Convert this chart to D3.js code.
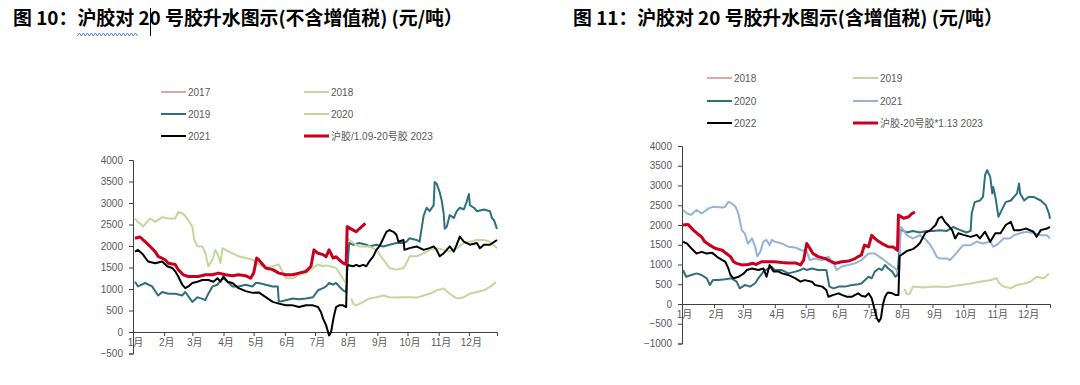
<!DOCTYPE html>
<html>
<head>
<meta charset="utf-8">
<script src="https://cdn.jsdelivr.net/npm/d3@7"></script>
<style>
	body { margin: 0; background: #fff; }
	svg { display: block; }
	.title { font-family: "Noto Sans CJK SC", sans-serif; font-weight: bold; font-size: 18px; fill: #000; }
	.tick text, .legend text { font-family: "Liberation Sans", "Noto Sans CJK SC", sans-serif; font-size: 10px; fill: #595959; }
</style>
</head>
<body>
<svg id="canvas" width="1080" height="385"></svg>
<script>
'use strict';

// month starts (day of year) and their labels
const monthDays = [0, 31, 59, 90, 120, 151, 181, 212, 243, 273, 304, 334];
const monthLabels = ['1月', '2月', '3月', '4月', '5月', '6月', '7月', '8月', '9月', '10月', '11月', '12月'];

/* ---- Fig.10 : without VAT, [day, value] ---- */
const left2017 = [];
const left2018 = [[217,780],[219,660],[222,620],[229,700],[235,780],[242,810],[249,850],[255,810],[262,800],[269,810],[275,810],[282,800],[289,850],[295,890],[302,970],[309,1010],[315,890],[322,780],[329,810],[335,890],[342,930],[349,970],[355,1050],[361,1160]];
const left2019 = [[2,1170],[5,1060],[12,1140],[19,1060],[25,850],[29,930],[35,890],[42,890],[49,850],[52,930],[59,700],[64,810],[69,770],[72,740],[74,850],[79,1060],[84,1100],[89,1250],[92,1210],[99,1060],[105,1060],[112,1100],[119,1060],[122,1140],[125,1140],[132,1100],[139,1060],[144,1060],[145,700],[152,740],[159,780],[165,760],[172,780],[179,810],[184,970],[189,1020],[192,1060],[195,1140],[199,1100],[202,1140],[205,1060],[209,970],[212,930],[213,1410],[215,2070],[219,2030],[225,2070],[232,2030],[235,1990],[242,2030],[249,1990],[255,2030],[262,2070],[269,2070],[272,2100],[275,2180],[282,2140],[285,2100],[289,2700],[292,2890],[295,2810],[299,2950],[300,3490],[302,3450],[305,3250],[307,3060],[309,2750],[310,2400],[312,2450],[315,2720],[319,2650],[322,2810],[325,2890],[329,2850],[332,3040],[334,3210],[335,2950],[339,2890],[342,2810],[349,2850],[355,2810],[357,2650],[359,2600],[362,2400]];
const left2020 = [[2,2640],[5,2550],[9,2490],[10,2450],[17,2640],[22,2560],[29,2670],[35,2640],[42,2640],[45,2790],[50,2750],[54,2640],[59,2450],[61,2140],[64,1990],[69,1990],[72,1830],[75,1530],[79,1680],[82,1910],[85,1760],[87,1600],[89,1950],[92,1910],[99,1830],[105,1760],[112,1720],[119,1680],[125,1570],[132,1490],[139,1530],[145,1570],[152,1250],[159,1250],[165,1330],[172,1370],[179,1490],[184,1570],[189,1530],[192,1550],[202,1490],[212,1120],[213,2180],[219,2070],[225,1990],[235,1990],[242,1910],[249,1680],[255,1490],[262,1450],[269,1490],[272,1600],[275,1760],[282,1760],[289,1830],[295,1910],[302,1950],[309,1910],[315,1870],[322,1950],[329,2070],[335,2100],[342,2140],[349,2140],[355,2100],[362,1950]];
const left2021 = [[2,1870],[5,1910],[10,1800],[15,1640],[22,1600],[29,1640],[34,1530],[39,1490],[42,1410],[45,1290],[49,1100],[52,1020],[55,1060],[59,1140],[64,1170],[69,1210],[75,1210],[80,1170],[84,1250],[87,1170],[90,1290],[94,1170],[99,1140],[105,1020],[112,950],[119,910],[125,920],[132,810],[139,700],[145,660],[152,620],[159,620],[165,580],[172,620],[179,620],[184,580],[187,460],[189,310],[192,160],[194,0],[195,-80],[197,0],[199,270],[200,390],[202,580],[205,620],[209,620],[212,580],[213,1560],[219,1530],[222,1560],[225,1530],[229,1560],[232,1530],[235,1640],[239,1760],[242,1910],[245,1990],[249,2180],[252,2330],[255,2370],[259,2330],[262,2260],[264,2100],[269,2140],[270,1910],[275,1950],[282,1990],[289,1910],[295,1950],[299,1990],[302,1910],[305,1760],[309,1830],[312,1910],[315,1990],[319,1870],[322,2030],[325,2220],[329,2100],[335,2030],[342,2070],[345,1950],[349,2030],[355,2030],[362,2140]];
const left2023 = [[2,2180],[7,2210],[12,2100],[17,1990],[22,1870],[25,1760],[32,1680],[35,1600],[42,1570],[45,1450],[50,1330],[55,1290],[65,1290],[72,1330],[79,1330],[85,1370],[92,1330],[99,1310],[105,1330],[112,1310],[117,1250],[120,1370],[123,1720],[125,1680],[129,1570],[132,1490],[139,1450],[145,1370],[152,1330],[159,1330],[165,1370],[172,1410],[177,1530],[180,1910],[184,1830],[189,1800],[192,1750],[195,1910],[199,1720],[202,1750],[205,1680],[209,1600],[212,1570],[213,2450],[219,2370],[222,2330],[225,2400],[229,2480],[231,2530]];

/* ---- Fig.11 : with VAT, [day, value] ---- */
const right2018 = [];
const right2019 = [[216,380],[218,250],[221,260],[224,440],[234,420],[244,440],[257,430],[270,480],[280,520],[289,565],[299,600],[305,650],[308,520],[312,440],[319,400],[325,480],[332,520],[338,565],[344,690],[351,650],[356,770]];
const right2020 = [[1,860],[4,690],[9,735],[14,775],[19,735],[24,650],[27,480],[30,605],[35,605],[42,625],[48,650],[53,565],[56,395],[61,480],[66,440],[71,525],[74,650],[79,820],[84,900],[87,940],[90,860],[97,860],[103,775],[110,820],[115,860],[118,900],[121,860],[126,900],[132,860],[140,860],[143,440],[147,395],[152,440],[158,440],[165,480],[171,500],[174,520],[181,690],[184,650],[187,820],[191,900],[194,860],[197,985],[200,900],[204,820],[207,690],[209,735],[211,1410],[212,1890],[218,1810],[224,1850],[231,1810],[237,1850],[244,1850],[250,1870],[257,1850],[263,1950],[270,1870],[276,1810],[280,1850],[281,2290],[284,2580],[289,2620],[292,2710],[294,3260],[296,3390],[299,3220],[301,2800],[302,2960],[304,2710],[307,2210],[311,2420],[314,2580],[319,2620],[325,2800],[327,3050],[328,2800],[332,2620],[336,2710],[341,2710],[348,2620],[353,2500],[356,2290],[357,2160]];
const right2021 = [[1,2380],[5,2290],[9,2260],[14,2380],[19,2290],[26,2420],[30,2460],[39,2440],[42,2460],[45,2590],[48,2550],[52,2460],[55,2260],[58,1870],[61,1780],[64,1530],[68,1660],[71,1450],[73,1200],[76,1330],[79,1580],[82,1620],[85,1490],[87,1620],[90,1580],[97,1530],[103,1450],[110,1430],[116,1360],[121,1330],[124,1110],[129,1150],[136,1110],[142,1200],[147,1030],[150,860],[155,950],[162,990],[168,1030],[174,1110],[181,1280],[187,1280],[194,1150],[200,1030],[207,900],[209,820],[211,850],[212,1950],[215,1870],[218,1740],[224,1660],[231,1740],[237,1620],[241,1490],[244,1360],[247,1200],[250,1150],[257,1150],[260,1110],[263,1200],[266,1280],[270,1410],[273,1490],[280,1490],[286,1580],[292,1530],[299,1580],[302,1450],[305,1490],[312,1660],[318,1660],[322,1740],[328,1790],[334,1830],[341,1790],[348,1740],[354,1740],[357,1660]];
const right2022 = [[1,1575],[5,1530],[9,1410],[14,1280],[19,1320],[24,1280],[29,1300],[34,1195],[39,1110],[42,1070],[45,900],[47,735],[50,650],[55,690],[60,775],[63,860],[68,900],[74,860],[79,900],[82,690],[85,985],[89,820],[94,820],[97,775],[103,735],[110,650],[115,565],[119,605],[126,565],[129,480],[136,440],[140,355],[142,185],[147,230],[152,270],[155,230],[160,185],[165,185],[168,230],[171,270],[174,210],[178,185],[181,270],[184,145],[187,-150],[189,-360],[191,-445],[193,-360],[195,0],[197,185],[199,270],[200,290],[204,270],[207,230],[210,230],[211,1210],[218,1340],[224,1390],[228,1470],[231,1550],[236,1800],[241,1870],[246,2000],[249,2170],[252,2210],[255,2080],[258,2000],[262,1870],[265,1660],[268,1790],[273,1750],[280,1700],[286,1750],[289,1660],[294,1830],[299,1575],[304,1790],[309,1790],[314,2000],[319,2080],[322,1870],[328,1870],[334,1910],[341,1830],[344,1700],[348,1870],[354,1910],[357,1950]];
const right2023 = [[1,2000],[6,2010],[11,1870],[15,1780],[19,1700],[22,1580],[27,1490],[32,1410],[39,1360],[43,1280],[47,1200],[50,1070],[53,1030],[58,990],[64,1000],[69,1030],[72,1000],[77,1070],[84,1070],[90,1070],[97,1050],[103,1040],[110,1040],[115,990],[118,1110],[121,1530],[124,1410],[127,1280],[132,1200],[139,1150],[145,1070],[149,1030],[155,1070],[162,1090],[168,1150],[171,1200],[174,1240],[177,1490],[181,1450],[184,1740],[187,1660],[191,1580],[194,1530],[197,1490],[200,1450],[205,1440],[209,1360],[210,2250],[215,2170],[220,2210],[223,2290],[226,2330]];

const leftYTicks = [-500, 0, 500, 1000, 1500, 2000, 2500, 3000, 3500, 4000];
const rightYTicks = [-1000, -500, 0, 500, 1000, 1500, 2000, 2500, 3000, 3500, 4000];

const leftSeries = [
	{ name: '2017', data: left2017, color: '#e6a3a3', width: 2 },
	{ name: '2018', data: left2018, color: '#c4d79b', width: 2 },
	{ name: '2019', data: left2019, color: '#2f6f7e', width: 2 },
	{ name: '2020', data: left2020, color: '#c4d79b', width: 2 },
	{ name: '2021', data: left2021, color: '#000000', width: 2 },
	{ name: '沪胶/1.09-20号胶 2023', data: left2023, color: '#c8001e', width: 3 }
];
const rightSeries = [
	{ name: '2018', data: right2018, color: '#e6a3a3', width: 2 },
	{ name: '2019', data: right2019, color: '#c4d79b', width: 2 },
	{ name: '2020', data: right2020, color: '#2f6f7e', width: 2 },
	{ name: '2021', data: right2021, color: '#95b3d7', width: 2 },
	{ name: '2022', data: right2022, color: '#000000', width: 2 },
	{ name: '沪胶-20号胶*1.13 2023', data: right2023, color: '#c8001e', width: 3 }
];

const svg = d3.select('#canvas');

/**
 * draw one chart panel
 * @param {object} cfg
 * @returns {object} the title node
 */
function drawChart(cfg){
	const x = d3.scaleLinear().domain([0, cfg.endDay]).range(cfg.xRange);
	const y = d3.scaleLinear().domain(d3.extent(cfg.yTicks)).range(cfg.yRange);

	const title = svg.append('text')
		.attr('class', 'title')
		.attr('x', cfg.titleX)
		.attr('y', 25)
		.text(cfg.title);
	// fit the title to the width it has in the source
	const len = title.node().getComputedTextLength();
	title.style('font-size', (18 * cfg.titleWidth / len).toFixed(2) + 'px');

	// legend, two columns of three rows
	const legend = svg.append('g').attr('class', 'legend');
	cfg.series.forEach((s, i) => {
		const lx = cfg.legendX[i % 2];
		const ly = cfg.legendY[Math.floor(i / 2)];
		legend.append('line')
			.attr('x1', lx).attr('x2', lx + 25)
			.attr('y1', ly).attr('y2', ly)
			.attr('stroke', s.color)
			.attr('stroke-width', s.width);
		legend.append('text')
			.attr('x', lx + 27)
			.attr('y', ly + 3.5)
			.text(s.name);
	});

	// y axis
	const yAxis = svg.append('g')
		.attr('transform', `translate(${cfg.xRange[0]},0)`)
		.call(d3.axisLeft(y).tickValues(cfg.yTicks).tickSize(4).tickPadding(6).tickFormat(d3.format('d')));
	yAxis.select('.domain').attr('stroke', '#404040');
	yAxis.selectAll('.tick line').attr('stroke', '#404040');

	// x axis sits on the zero line
	const xAxis = svg.append('g')
		.attr('transform', `translate(0,${y(0)})`)
		.call(d3.axisBottom(x).tickValues(monthDays).tickSize(4).tickPadding(3)
			.tickFormat((d, i) => monthLabels[i]));
	xAxis.select('.domain').attr('stroke', '#404040');
	xAxis.selectAll('.tick line').attr('stroke', '#404040');
	xAxis.selectAll('.tick text').attr('dx', 2);

	const line = d3.line()
		.x(d => x(d[0]))
		.y(d => y(d[1]));

	svg.append('g')
		.selectAll('path')
		.data(cfg.series.filter(s => s.data.length))
		.join('path')
			.attr('d', s => line(s.data))
			.attr('fill', 'none')
			.attr('stroke', s => s.color)
			.attr('stroke-width', s => s.width)
			.attr('stroke-linejoin', 'round');

	return title.node();
}

const leftTitle = drawChart({
	title: '图 10：沪胶对 20 号胶升水图示(不含增值税) (元/吨）',
	titleX: 13,
	titleWidth: 450,
	series: leftSeries,
	endDay: 362,
	xRange: [133, 497],
	yTicks: leftYTicks,
	yRange: [353.5, 160],
	legendX: [161, 304],
	legendY: [92, 114, 136]
});

drawChart({
	title: '图 11：沪胶对 20 号胶升水图示(含增值税) (元/吨）',
	titleX: 573,
	titleWidth: 430,
	series: rightSeries,
	endDay: 357,
	xRange: [682, 1050],
	yTicks: rightYTicks,
	yRange: [343.5, 146],
	legendX: [707, 853],
	legendY: [78, 101, 123]
});

// spell-check squiggle under "沪胶对" and the text cursor after "2"
const waveStart = leftTitle.getStartPositionOfChar(5).x;
const waveEnd = leftTitle.getEndPositionOfChar(8).x;
const wave = d3.range(waveStart, waveEnd, 2).map((d, i) => [d, i % 2 ? 33 : 36]);
svg.append('path')
	.attr('d', d3.line()(wave))
	.attr('fill', 'none')
	.attr('stroke', '#4a7fd6')
	.attr('stroke-width', 1);
const caretX = Math.round(leftTitle.getEndPositionOfChar(9).x) + 0.5;
svg.append('line')
	.attr('x1', caretX).attr('x2', caretX)
	.attr('y1', 8).attr('y2', 36)
	.attr('stroke', '#000')
	.attr('stroke-width', 1);
</script>
</body>
</html>
